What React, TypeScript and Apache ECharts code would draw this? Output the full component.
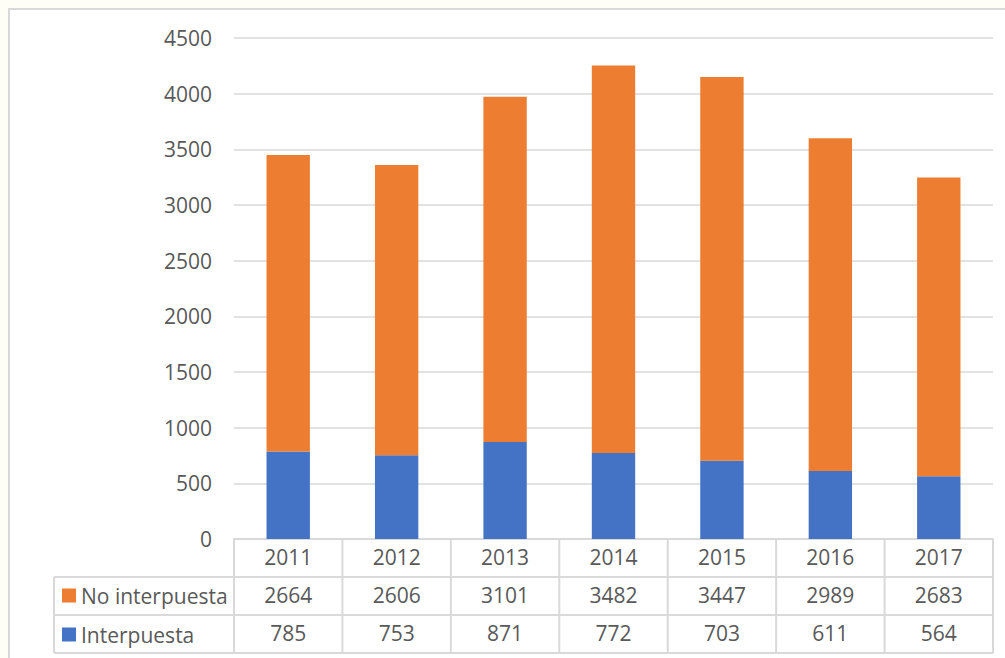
import React, { useEffect, useRef } from "react";
import * as echarts from "echarts";

const years = ["2011", "2012", "2013", "2014", "2015", "2016", "2017"];
const noInterpuesta = [2664, 2606, 3101, 3482, 3447, 2989, 2683];
const interpuesta = [785, 753, 871, 772, 703, 611, 564];
const seriesNames = ["No interpuesta", "Interpuesta"];
const yMin = 0;
const yMax = 4500;
const yInterval = 500;

const FONT = "'Open Sans', sans-serif";
const TXT = "#595959";
const LINE = "#d9d9d9";
const ROW = 38;
const FS = 21;

export default function App() {
  const ref = useRef<HTMLDivElement>(null);
  useEffect(() => {
    document.body.style.margin = "0";
    const chart = echarts.init(ref.current!, undefined, { renderer: "svg" });
    const label = {
      color: TXT,
      fontSize: FS,
      fontFamily: FONT,
      verticalAlign: "middle" as const,
      margin: 18,
    };
    chart.setOption({
      animation: false,
      grid: { left: 224, right: 12, top: 28, bottom: 119 },
      legend: {
        data: seriesNames,
        orient: "vertical",
        left: 52,
        top: 575,
        padding: 0,
        itemWidth: 14,
        itemHeight: 14,
        itemGap: 18,
        icon: "rect",
        selectedMode: false,
        textStyle: { color: TXT, fontSize: FS, fontFamily: FONT, lineHeight: 20 },
      },
      xAxis: [
        {
          type: "category",
          data: years,
          axisLine: { show: true, lineStyle: { color: LINE, width: 2 } },
          axisTick: { show: false },
          axisLabel: label,
        },
        {
          type: "category",
          data: noInterpuesta.map(String),
          position: "bottom",
          offset: ROW,
          axisLine: { show: false },
          axisTick: { show: false },
          axisLabel: label,
        },
        {
          type: "category",
          data: interpuesta.map(String),
          position: "bottom",
          offset: ROW * 2,
          axisLine: { show: false },
          axisTick: { show: false },
          axisLabel: label,
        },
      ],
      yAxis: {
        type: "value",
        min: yMin,
        max: yMax,
        interval: yInterval,
        axisLine: { show: false },
        axisTick: { show: false },
        axisLabel: {
          color: TXT,
          fontSize: FS,
          fontFamily: FONT,
          margin: 22,
          formatter: (v: number) => String(v),
        },
        splitLine: { lineStyle: { color: LINE, width: 1.5 } },
      },
      series: [
        {
          name: "Interpuesta",
          type: "bar",
          stack: "total",
          data: interpuesta,
          barWidth: "40%",
          itemStyle: { color: "#4472C4" },
        },
        {
          name: "No interpuesta",
          type: "bar",
          stack: "total",
          data: noInterpuesta,
          barWidth: "40%",
          itemStyle: { color: "#ED7D31" },
        },
      ],
    });

    // table grid lines derived from axis positions
    const c0 = chart.convertToPixel({ xAxisIndex: 0 }, 0) as number;
    const c1 = chart.convertToPixel({ xAxisIndex: 0 }, 1) as number;
    const band = c1 - c0;
    const left = c0 - band / 2;
    const right = left + band * years.length;
    const y0 = chart.convertToPixel({ yAxisIndex: 0 }, 0) as number;
    const legendLeft = 44;
    const lines: any[] = [];
    const ls = { stroke: LINE, lineWidth: 2 };
    for (let i = 0; i <= years.length; i++) {
      const x = left + band * i;
      lines.push({ type: "line", shape: { x1: x, y1: y0, x2: x, y2: y0 + ROW * 3 }, style: ls, silent: true });
    }
    lines.push({ type: "line", shape: { x1: legendLeft, y1: y0 + ROW, x2: legendLeft, y2: y0 + ROW * 3 }, style: ls, silent: true });
    for (let r = 1; r <= 3; r++) {
      lines.push({ type: "line", shape: { x1: legendLeft, y1: y0 + ROW * r, x2: right, y2: y0 + ROW * r }, style: ls, silent: true });
    }
    chart.setOption({ graphic: lines });

    return () => chart.dispose();
  }, []);
  return (
    <div style={{ position: "absolute", left: 0, top: 0, width: 1005, height: 658, background: "#FEFDF6", overflow: "hidden" }}>
      <div
        style={{
          position: "absolute",
          left: 8,
          top: 8,
          width: 1010,
          height: 660,
          background: "#fff",
          borderLeft: "2px solid #d9d9d9",
          borderTop: "2px solid #d9d9d9",
        }}
      >
        <div ref={ref} style={{ width: 995, height: 648 }} />
      </div>
    </div>
  );
}
